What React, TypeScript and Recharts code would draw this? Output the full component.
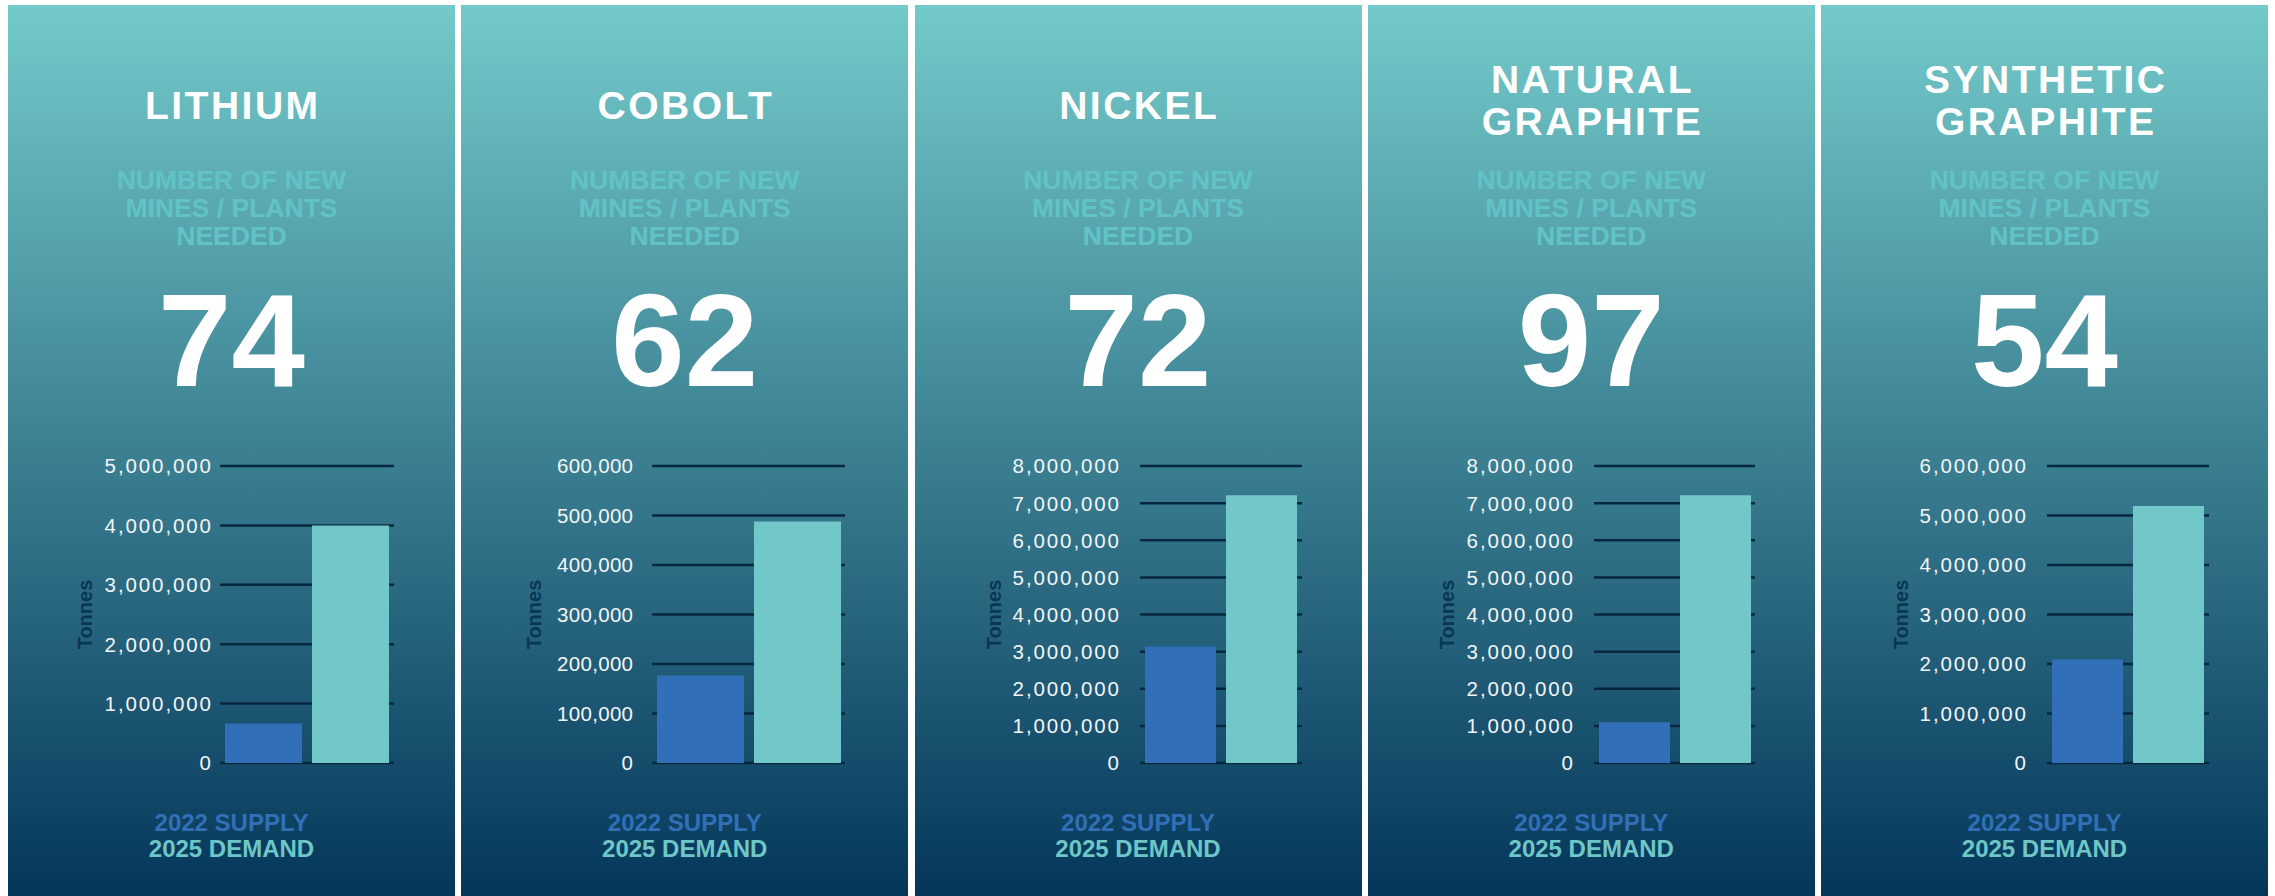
import React from 'react';
import { BarChart, Bar, XAxis, YAxis, CartesianGrid } from 'recharts';

// values
const titleLines = [['LITHIUM'], ['COBOLT'], ['NICKEL'], ['NATURAL', 'GRAPHITE'], ['SYNTHETIC', 'GRAPHITE']];
const minesNeeded = [74, 62, 72, 97, 54];
const supply2022 = [665000, 177000, 3140000, 1100000, 2090000];
const demand2025 = [4000000, 488000, 7210000, 7210000, 5190000];
const axisTicks = [
    [0, 1000000, 2000000, 3000000, 4000000, 5000000],
    [0, 100000, 200000, 300000, 400000, 500000, 600000],
    [0, 1000000, 2000000, 3000000, 4000000, 5000000, 6000000, 7000000, 8000000],
    [0, 1000000, 2000000, 3000000, 4000000, 5000000, 6000000, 7000000, 8000000],
    [0, 1000000, 2000000, 3000000, 4000000, 5000000, 6000000],
];
const subtitleLines = ['NUMBER OF NEW', 'MINES / PLANTS', 'NEEDED'];
const legendLabels = ['2022 SUPPLY', '2025 DEMAND'];
const axisTitle = 'Tonnes';

// per-panel layout (px, relative to panel)
const plotLeft = [212, 191, 225, 226, 226];
const plotRight = [386, 384, 387, 387, 388];
const labelEnd = [203, 172, 204, 205, 205];
const tonnesX = [77, 73, 79, 79, 80];
const tickSpacing = [1.9, 0.3, 1.9, 1.9, 1.9];

const PANEL_W = 447;
const PANEL_H = 891;
const SUPPLY = '#3170b8';
const DEMAND = '#72c8c8';
const FONT = '"Liberation Sans", Arial, Helvetica, sans-serif';

const fmt = (v: number) => v.toLocaleString('en-US');

const Panel: React.FC<{ i: number }> = ({ i }) => {
    const data = [{ name: 'tonnes', supply: supply2022[i], demand: demand2025[i] }];
    const ticks = axisTicks[i];
    const lines = titleLines[i];
    const titleTop = lines.length === 1 ? 101 - 21.25 : 75 - 21.25;
    const ls = tickSpacing[i];

    const renderTick = (props: any) => (
        <text
            x={labelEnd[i] + ls}
            y={props.y}
            dy="0.36em"
            textAnchor="end"
            fill="#f3f5f5"
            fontSize={20.5}
            fontFamily={FONT}
            letterSpacing={ls}
        >
            {fmt(props.payload.value)}
        </text>
    );

    const renderTonnes = (props: any) => {
        const vb = props.viewBox || {};
        const cy = (vb.y || 0) + (vb.height || 0) / 2;
        const cx = tonnesX[i];
        return (
            <text
                x={cx}
                y={cy}
                dy="0.36em"
                textAnchor="middle"
                transform={`rotate(-90 ${cx} ${cy})`}
                fill="#083654"
                fontSize={20}
                fontWeight="bold"
                fontFamily={FONT}
            >
                {axisTitle}
            </text>
        );
    };

    return (
        <div
            style={{
                position: 'absolute',
                left: 8 + i * 453.25,
                top: 5,
                width: PANEL_W,
                height: PANEL_H,
                background: 'linear-gradient(to bottom, #73caca 0%, #04365a 100%)',
                fontFamily: FONT,
                overflow: 'hidden',
            }}
        >
            {/* title */}
            <div style={{ position: 'absolute', left: 0, width: PANEL_W, top: titleTop, textAlign: 'center', color: '#fff', fontWeight: 'bold', fontSize: 39, lineHeight: '42.5px', letterSpacing: 2.5, paddingLeft: 2.5, boxSizing: 'border-box' }}>
                {lines.map((l) => <div key={l}>{l}</div>)}
            </div>

            {/* subtitle */}
            <div style={{ position: 'absolute', left: 0, width: PANEL_W, top: 161, textAlign: 'center', color: '#62c3c6', fontWeight: 'bold', fontSize: 26.5, lineHeight: '28px' }}>
                {subtitleLines.map((l) => <div key={l}>{l}</div>)}
            </div>

            {/* big number */}
            <div style={{ position: 'absolute', left: 0, width: PANEL_W, top: 266, textAlign: 'center', color: '#fff', fontWeight: 'bold', fontSize: 132, lineHeight: '140px' }}>
                {minesNeeded[i]}
            </div>

            {/* bar chart */}
            <div style={{ position: 'absolute', left: 0, top: 446 }}>
                <BarChart
                    width={PANEL_W}
                    height={330}
                    data={data}
                    margin={{ top: 15, right: PANEL_W - plotRight[i], bottom: 18, left: 0 }}
                    barCategoryGap={5}
                    barGap={10}
                >
                    <CartesianGrid vertical={false} stroke="#06283f" strokeWidth={2.5} />
                    <XAxis dataKey="name" hide />
                    <YAxis
                        width={plotLeft[i]}
                        domain={[0, ticks[ticks.length - 1]]}
                        ticks={ticks}
                        interval={0}
                        axisLine={false}
                        tickLine={false}
                        tick={renderTick}
                        label={{ content: renderTonnes }}
                    />
                    <Bar dataKey="supply" fill={SUPPLY} isAnimationActive={false} />
                    <Bar dataKey="demand" fill={DEMAND} isAnimationActive={false} />
                </BarChart>
            </div>

            {/* legend */}
            <div style={{ position: 'absolute', left: 0, width: PANEL_W, top: 805, textAlign: 'center', fontWeight: 'bold', fontSize: 24, lineHeight: '26px' }}>
                <div style={{ color: SUPPLY }}>{legendLabels[0]}</div>
                <div style={{ color: '#6fc6c6' }}>{legendLabels[1]}</div>
            </div>
        </div>
    );
};

export default function App() {
    return (
        <div style={{ position: 'absolute', left: 0, top: 0, width: 2275, height: 896, background: '#fff', overflow: 'hidden' }}>
            {titleLines.map((_, i) => <Panel key={i} i={i} />)}
        </div>
    );
}
